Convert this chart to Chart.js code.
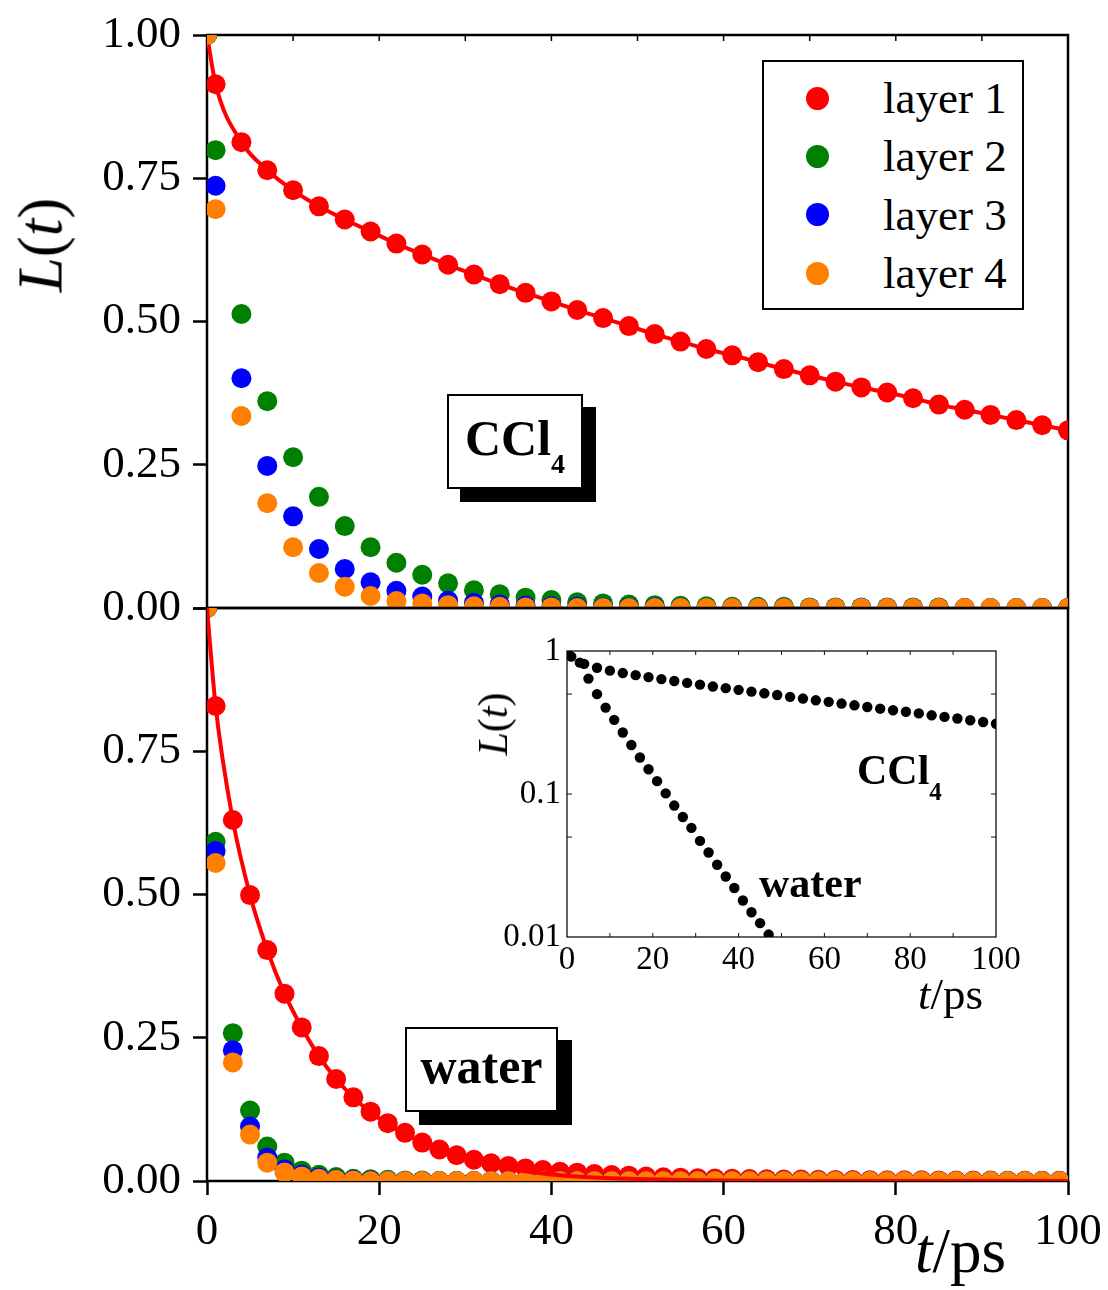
<!DOCTYPE html>
<html>
<head>
<meta charset="utf-8">
<script src="https://cdn.jsdelivr.net/npm/chart.js@4.4.1/dist/chart.umd.min.js"></script>
<style>
    body { margin: 0; background: #fff; }
    #fig { position: relative; width: 1108px; height: 1290px; background: #fff; overflow: hidden;
           font-family: 'Liberation Serif', 'Times New Roman', serif; color: #000; }
    .box { position: absolute; }
    #topBox { left: 0; top: -10px; width: 1108px; height: 670px; }
    #botBox { left: 0; top: 560px; width: 1120px; height: 730px; }
    #insetBox { left: 470px; top: 625px; width: 560px; height: 420px; }
    .lbl { position: absolute; white-space: nowrap; line-height: 1; }
    .rot { transform: translate(-50%, -50%) rotate(-90deg); }
    .tag { position: absolute; box-sizing: border-box; border: 2px solid #000; background: #fff;
           font-weight: bold; font-size: 50px; text-align: center; white-space: nowrap; }
    #legend { position: absolute; left: 762px; top: 60px; width: 262px; height: 250px; box-sizing: border-box;
              border: 2px solid #000; background: #fff; padding-top: 7px; }
    .row { height: 58.3px; line-height: 58.3px; font-size: 45px; display: flex; align-items: center; }
    .mark { width: 23px; height: 23px; border-radius: 50%; margin-left: 42px; margin-right: 54px; }
</style>
</head>
<body>
<div id="fig">
    <div class="box" id="topBox"><canvas id="topChart"></canvas></div>
    <div class="box" id="botBox"><canvas id="botChart"></canvas></div>
    <div class="box" id="insetBox"><canvas id="insetChart"></canvas></div>

    <div class="lbl rot" style="left:41px; top:245px; font-size:63px;"><i>L</i>(<i>t</i>)</div>
    <div class="lbl" style="left:915px; top:1220px; font-size:63px;"><i>t</i>/ps</div>

    <div class="tag" style="left:447px; top:394px; width:136px; height:95px; line-height:84px; box-shadow:13px 13px 0 #000;">CCl<span style="font-size:28px; vertical-align:-18px;">4</span></div>
    <div class="tag" style="left:405px; top:1027px; width:153px; height:85px; line-height:74px; box-shadow:14px 13px 0 #000;">water</div>

    <div class="lbl rot" style="left:493px; top:724px; font-size:42px;"><i>L</i>(<i>t</i>)</div>
    <div class="lbl" style="left:918px; top:972px; font-size:45px;"><i>t</i>/ps</div>
    <div class="lbl" style="left:857px; top:749px; font-size:42px; font-weight:bold;">CCl<span style="font-size:25px; vertical-align:-16px;">4</span></div>
    <div class="lbl" style="left:759px; top:862px; font-size:42px; font-weight:bold;">water</div>

    <div id="legend"></div>
</div>
<script>
// ---- data ----
var layerNames = ['layer 1', 'layer 2', 'layer 3', 'layer 4'];
var layerColors = ['#ff0000', '#008000', '#0000ff', '#ff8000'];

// CCl4 panel, t/ps
var cclT = [0,1,4,7,10,13,16,19,22,25,28,31,34,37,40,43,46,49,52,55,58,61,64,67,70,73,76,79,82,85,88,91,94,97,100];
var cclLayer1 = [1.000,0.914,0.813,0.764,0.729,0.701,0.678,0.657,0.636,0.617,0.599,0.582,0.565,0.550,0.535,0.520,0.506,0.492,0.478,0.465,0.452,0.441,0.429,0.417,0.406,0.395,0.385,0.376,0.366,0.355,0.346,0.337,0.328,0.319,0.310];
var cclLayer2 = [1.000,0.799,0.513,0.361,0.263,0.194,0.143,0.106,0.079,0.058,0.043,0.031,0.024,0.018,0.014,0.010,0.008,0.006,0.005,0.004,0.003,0.002,0.002,0.002,0.001,0.001,0.001,0.001,0.001,0.001,0,0,0,0,0];
var cclLayer3 = [1.000,0.737,0.401,0.248,0.160,0.103,0.068,0.045,0.030,0.020,0.013,0.009,0.006,0.004,0.003,0.002,0.001,0.001,0.001,0,0,0,0,0,0,0,0,0,0,0,0,0,0,0,0];
var cclLayer4 = [1.000,0.696,0.335,0.183,0.106,0.061,0.037,0.021,0.012,0.008,0.005,0.003,0.002,0.001,0.001,0,0,0,0,0,0,0,0,0,0,0,0,0,0,0,0,0,0,0,0];

// water panel, t/ps
var waterT = [0,1,3,5,7,9,11,13,15,17,19,21,23,25,27,29,31,33,35,37,39,41,43,45,47,49,51,53,55,57,59,61,63,65,67,69,71,73,75,77,79,81,83,85,87,89,91,93,95,97,99];
var waterLayer1 = [1.000,0.829,0.630,0.499,0.403,0.327,0.268,0.218,0.178,0.146,0.121,0.101,0.084,0.067,0.055,0.045,0.037,0.031,0.026,0.022,0.019,0.016,0.0145,0.012,0.0105,0.0093,0.0078,0.0066,0.0058,0.0050,0.0044,0.0039,0.0034,0.0030,0.0027,0.0024,0.0021,0.0019,0.0017,0.0015,0.0013,0.0012,0.0011,0.0010,0.0009,0.0008,0.0007,0.0006,0.0006,0.0005,0.0005];
var waterLayer2 = [1.000,0.592,0.258,0.123,0.060,0.032,0.018,0.011,0.007,0.004,0.003,0.002,0.001,0.001,0,0,0,0,0,0,0,0,0,0,0,0,0,0,0,0,0,0,0,0,0,0,0,0,0,0,0,0,0,0,0,0,0,0,0,0,0];
var waterLayer3 = [1.000,0.576,0.228,0.095,0.041,0.020,0.011,0.006,0.003,0.002,0.001,0,0,0,0,0,0,0,0,0,0,0,0,0,0,0,0,0,0,0,0,0,0,0,0,0,0,0,0,0,0,0,0,0,0,0,0,0,0,0,0];
var waterLayer4 = [1.000,0.555,0.207,0.081,0.032,0.015,0.008,0.004,0.002,0.001,0,0,0,0,0,0,0,0,0,0,0,0,0,0,0,0,0,0,0,0,0,0,0,0,0,0,0,0,0,0,0,0,0,0,0,0,0,0,0,0,0];
// fitted curve for layer 1 in water
var waterFitT = [0,1,3,5,7,9,11,13,15,17,19,21,23,25,27,29,31,33,35,37,39,41,43,45,47,49,51,53,55,57,60,65,70,80,90,100];
var waterFit = [1.000,0.829,0.630,0.499,0.403,0.327,0.268,0.218,0.178,0.146,0.120,0.099,0.082,0.067,0.054,0.044,0.035,0.028,0.022,0.017,0.013,0.010,0.0078,0.0062,0.0050,0.0040,0.0032,0.0025,0.0019,0.0014,0.0009,0.0004,0.0002,0,0,0];

// inset (log scale), layer 1
var insetWaterT = [3,5,7,9,11,13,15,17,19,21,23,25,27,29,31,33,35,37,39,41,43,45,47];
var insetWaterL = [0.829,0.641,0.499,0.402,0.330,0.269,0.220,0.180,0.149,0.123,0.101,0.083,0.069,0.058,0.047,0.039,0.032,0.0265,0.022,0.018,0.0149,0.0125,0.0104];

var mainYTicks = [0, 0.25, 0.5, 0.75, 1];
var insetYTicks = [0.01, 0.1, 1];

// ---- helpers ----
Chart.defaults.font.family = "'Liberation Serif', 'Times New Roman', serif";
Chart.defaults.color = '#000';

function pts(ts, ys) {
    return ts.map(function(t, i) { return { x: t, y: ys[i] }; });
}

function dots(label, ts, ys, color, order, r) {
    return {
        label: label, data: pts(ts, ys), showLine: false, order: order, clip: 0,
        pointRadius: r, pointHoverRadius: r, pointBorderWidth: 0,
        pointBackgroundColor: color, backgroundColor: color, borderColor: color
    };
}

// frame round the plot area plus the small inward ticks
var framePlugin = {
    id: 'frame',
    beforeDatasetsDraw: function(chart, args, opts) {
        var ctx = chart.ctx, a = chart.chartArea;
        ctx.save();
        ctx.strokeStyle = opts.color || '#000';
        ctx.lineWidth = opts.width;
        ctx.strokeRect(a.left, a.top, a.right - a.left, a.bottom - a.top);
        (opts.marks || []).forEach(function(m) {
            var sc = chart.scales[m.scale];
            ctx.lineWidth = m.width || opts.width;
            m.values.forEach(function(v) {
                var p = sc.getPixelForValue(v);
                m.sides.forEach(function(s) {
                    ctx.beginPath();
                    if (s === 'top') { ctx.moveTo(p, a.top); ctx.lineTo(p, a.top + m.len); }
                    if (s === 'bottom') { ctx.moveTo(p, a.bottom); ctx.lineTo(p, a.bottom - m.len); }
                    if (s === 'left') { ctx.moveTo(a.left, p); ctx.lineTo(a.left + m.len, p); }
                    if (s === 'right') { ctx.moveTo(a.right, p); ctx.lineTo(a.right - m.len, p); }
                    ctx.stroke();
                });
            });
        });
        ctx.restore();
    }
};

function mainY(hideOne) {
    return {
        type: 'linear', min: 0, max: 1,
        afterFit: function(s) { s.width = 207; },
        afterBuildTicks: function(s) { s.ticks = mainYTicks.map(function(v) { return { value: v }; }); },
        ticks: {
            font: { size: 45 }, color: '#000', padding: 12, autoSkip: false,
            callback: function(v) { return (hideOne && v === 1) ? '' : v.toFixed(2); }
        },
        grid: { drawOnChartArea: false, drawTicks: true, tickLength: 14, tickWidth: 2.5, tickColor: '#000' },
        border: { display: false }
    };
}

function baseOptions() {
    return {
        responsive: true, maintainAspectRatio: false, animation: false,
        plugins: { legend: { display: false }, tooltip: { enabled: false } }
    };
}

// ---- top panel: CCl4 ----
var topOpts = baseOptions();
topOpts.layout = { padding: { top: 45, right: 40, bottom: 52, left: 0 } };
topOpts.scales = {
    x: { type: 'linear', min: 0, max: 100, display: false },
    y: mainY(false)
};
topOpts.plugins.frame = {
    width: 2.5,
    marks: [{ scale: 'x', values: [10, 20, 30, 40, 50, 60, 70, 80, 90], sides: ['top'], len: 6, width: 1.5 }]
};
var cclRed = dots(layerNames[0], cclT, cclLayer1, layerColors[0], 4, 10);
cclRed.showLine = true;
cclRed.borderWidth = 4;
cclRed.cubicInterpolationMode = 'monotone';

new Chart(document.getElementById('topChart'), {
    type: 'scatter',
    data: {
        datasets: [
            cclRed,
            dots(layerNames[1], cclT, cclLayer2, layerColors[1], 3, 10),
            dots(layerNames[2], cclT, cclLayer3, layerColors[2], 2, 10),
            dots(layerNames[3], cclT, cclLayer4, layerColors[3], 1, 10)
        ]
    },
    options: topOpts,
    plugins: [framePlugin]
});

// ---- bottom panel: water ----
var botOpts = baseOptions();
botOpts.layout = { padding: { top: 48, right: 52, bottom: 39, left: 0 } };
botOpts.scales = {
    x: {
        type: 'linear', min: 0, max: 100,
        afterFit: function(s) { s.height = 70; },
        ticks: { stepSize: 20, font: { size: 45 }, color: '#000', padding: 10, autoSkip: false, maxRotation: 0 },
        grid: { drawOnChartArea: false, drawTicks: true, tickLength: 14, tickWidth: 2.5, tickColor: '#000' },
        border: { display: false }
    },
    y: mainY(true)
};
botOpts.plugins.frame = {
    width: 2.5,
    marks: [{ scale: 'x', values: [10, 30, 50, 70, 90], sides: ['bottom'], len: 6, width: 1.5 }]
};
var fitLine = {
    label: 'fit', data: pts(waterFitT, waterFit), showLine: true, order: 0, clip: 0,
    borderColor: layerColors[0], borderWidth: 4, pointRadius: 0, cubicInterpolationMode: 'monotone'
};

new Chart(document.getElementById('botChart'), {
    type: 'scatter',
    data: {
        datasets: [
            fitLine,
            dots(layerNames[0], waterT, waterLayer1, layerColors[0], 4, 10),
            dots(layerNames[1], waterT, waterLayer2, layerColors[1], 3, 10),
            dots(layerNames[2], waterT, waterLayer3, layerColors[2], 2, 10),
            dots(layerNames[3], waterT, waterLayer4, layerColors[3], 1, 10)
        ]
    },
    options: botOpts,
    plugins: [framePlugin]
});

// ---- inset: log scale ----
var insOpts = baseOptions();
insOpts.layout = { padding: { top: 26, right: 34, bottom: 58, left: 0 } };
insOpts.scales = {
    x: {
        type: 'linear', min: 0, max: 100,
        afterFit: function(s) { s.height = 50; },
        ticks: { stepSize: 20, font: { size: 33 }, color: '#000', padding: 4, autoSkip: false, maxRotation: 0 },
        grid: { drawOnChartArea: false, drawTicks: false },
        border: { display: false }
    },
    y: {
        type: 'logarithmic', min: 0.01, max: 1,
        afterFit: function(s) { s.width = 97; },
        afterBuildTicks: function(s) { s.ticks = insetYTicks.map(function(v) { return { value: v }; }); },
        ticks: { font: { size: 33 }, color: '#000', padding: 6, autoSkip: false,
                 callback: function(v) { return String(v); } },
        grid: { drawOnChartArea: false, drawTicks: false },
        border: { display: false }
    }
};
insOpts.plugins.frame = {
    width: 1.3, color: '#111',
    marks: [
        { scale: 'x', values: [10, 20, 30, 40, 50, 60, 70, 80, 90], sides: ['top', 'bottom'], len: 4, width: 1 },
        { scale: 'y', values: [0.5, 0.1, 0.05], sides: ['left', 'right'], len: 5, width: 1 }
    ]
};

new Chart(document.getElementById('insetChart'), {
    type: 'scatter',
    data: {
        datasets: [
            dots('CCl4', cclT, cclLayer1, '#000', 0, 5.2),
            dots('water', insetWaterT, insetWaterL, '#000', 0, 5.2)
        ]
    },
    options: insOpts,
    plugins: [framePlugin]
});

// ---- legend ----
var legend = document.getElementById('legend');
layerNames.forEach(function(name, i) {
    var row = document.createElement('div');
    row.className = 'row';
    var m = document.createElement('span');
    m.className = 'mark';
    m.style.background = layerColors[i];
    var t = document.createElement('span');
    t.textContent = name;
    row.appendChild(m);
    row.appendChild(t);
    legend.appendChild(row);
});
</script>
</body>
</html>
